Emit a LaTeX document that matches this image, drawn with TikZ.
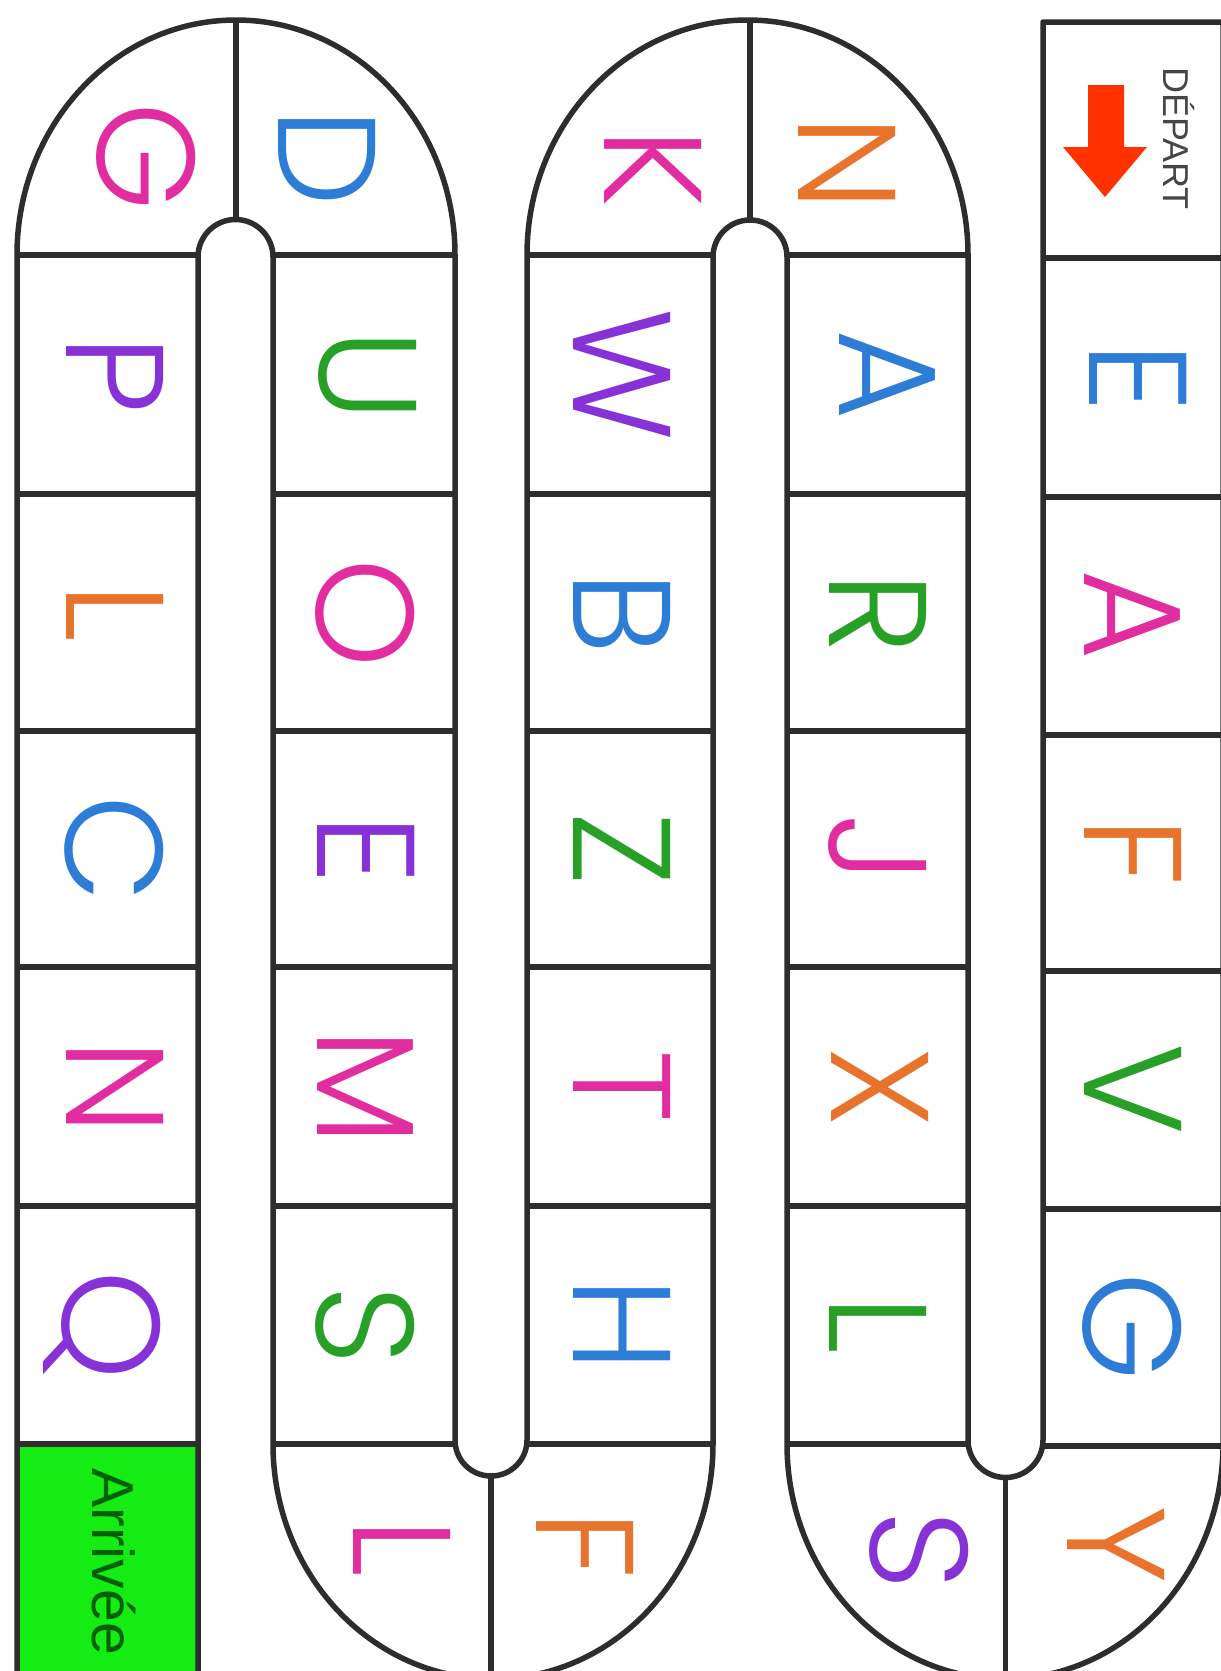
\documentclass[tikz,border=0pt]{standalone}
\usepackage{fontspec}
\setmainfont{Liberation Sans}
\newfontfamily\letterfont{Poppins Light}
\definecolor{lblue}{RGB}{45,125,215}
\definecolor{lpink}{RGB}{225,45,160}
\definecolor{lorange}{RGB}{232,115,45}
\definecolor{lgreen}{RGB}{40,160,40}
\definecolor{lpurple}{RGB}{135,50,215}
\definecolor{linegray}{RGB}{45,45,45}
\definecolor{arrgreen}{RGB}{20,236,20}
\definecolor{arrtext}{RGB}{0,95,0}
\definecolor{arrred}{RGB}{255,50,0}
\definecolor{deptext}{RGB}{70,70,70}
\begin{document}
\begin{tikzpicture}[x=1pt,y=-1pt,
  wall/.style={line width=5.5pt, draw=linegray, line join=round},
  letter/.style={rotate=-90, inner sep=0pt, text depth=0pt,
    font=\letterfont\fontsize{139}{139}\selectfont}]
\clip (0,0) rectangle (1221,1671);
\fill[white] (0,0) rectangle (1221,1671);
% finish box
\fill[arrgreen] (17,1444) rectangle (198,1700);
% boundary one
\draw[wall] (17,1700) -- (17,255)
  arc[start angle=180,end angle=360,x radius=219,y radius=235] -- (455,1440)
  arc[start angle=180,end angle=0,radius=36] -- (527,255)
  arc[start angle=180,end angle=360,x radius=220.5,y radius=235] -- (968,1440)
  arc[start angle=180,end angle=0,radius=37.5] -- (1043,22) -- (1240,22);
% boundary two
\draw[wall] (198,1700) -- (198,257)
  arc[start angle=180,end angle=360,radius=37.5] -- (273,1444)
  arc[start angle=180,end angle=0,x radius=220,y radius=235] -- (713,257)
  arc[start angle=180,end angle=360,radius=37] -- (787,1444)
  arc[start angle=180,end angle=0,x radius=218,y radius=235] -- (1223,22);
% dividers in the round cells
\draw[wall] (236,20) -- (236,220);
\draw[wall] (750,20) -- (750,220);
\draw[wall] (491,1476) -- (491,1700);
\draw[wall] (1005.5,1477) -- (1005.5,1700);
% cell lines
\foreach \yy in {255,494,731,967,1206,1444}{
  \draw[wall] (17,\yy) -- (198,\yy);
  \draw[wall] (273,\yy) -- (455,\yy);
  \draw[wall] (527,\yy) -- (713,\yy);
  \draw[wall] (787,\yy) -- (968,\yy);
}
\foreach \yy in {258,497,735,971,1209,1446}{
  \draw[wall] (1043,\yy) -- (1223,\yy);
}
% start cell
\fill[arrred] (1088,85) -- (1124,85) -- (1124,147) -- (1147,147) -- (1105,197)
  -- (1063,147) -- (1088,147) -- cycle;
\node[rotate=-90, anchor=base west, inner sep=0pt, text=deptext,
  font=\fontsize{36}{36}\selectfont] (depart) at (1163,67) {DÉPART};
\node[rotate=-90, anchor=base west, inner sep=0pt, text=arrtext,
  font=\fontsize{59}{59}\selectfont] (arrivee) at (92,1468) {Arrivée};
% column 1
\node[letter,text=lblue]   (c1a) at (1138,377) {\vphantom{E}E};
\node[letter,text=lpink]   (c1b) at (1133,615) {\vphantom{E}A};
\node[letter,text=lorange] (c1c) at (1133,852) {\vphantom{E}F};
\node[letter,text=lgreen]  (c1d) at (1133,1089) {\vphantom{E}V};
\node[letter,text=lblue]   (c1e) at (1133,1327) {\vphantom{E}G};
\node[letter,text=lorange] (c1f) at (1116,1545) {\vphantom{E}Y};
% column 2
\node[letter,text=lorange] (c2n) at (847,163) {\vphantom{E}N};
\node[letter,text=lblue]   (c2a) at (888,375) {\vphantom{E}A};
\node[letter,text=lgreen]  (c2b) at (878,613) {\vphantom{E}R};
\node[letter,text=lpink]   (c2c) at (878,849) {\vphantom{E}J};
\node[letter,text=lorange] (c2d) at (880,1087) {\vphantom{E}X};
\node[letter,text=lgreen]  (c2e) at (878,1325) {\vphantom{E}L};
\node[letter,text=lpurple] (c2s) at (920,1550) {\vphantom{E}S};
% column 3
\node[letter,text=lpink]   (c3k) at (653,168) {\vphantom{E}K};
\node[letter,text=lpurple] (c3a) at (622,375) {\vphantom{E}W};
\node[letter,text=lblue]   (c3b) at (622,613) {\vphantom{E}B};
\node[letter,text=lgreen]  (c3c) at (622,849) {\vphantom{E}Z};
\node[letter,text=lpink]   (c3d) at (622,1087) {\vphantom{E}T};
\node[letter,text=lblue]   (c3e) at (622,1325) {\vphantom{E}H};
\node[letter,text=lorange] (c3f) at (585,1545) {\vphantom{E}F};
% column 4
\node[letter,text=lblue]   (c4d) at (327,158) {\vphantom{E}D};
\node[letter,text=lgreen]  (c4a) at (368,375) {\vphantom{E}U};
\node[letter,text=lpink]   (c4b) at (366,613) {\vphantom{E}O};
\node[letter,text=lpurple] (c4c) at (366,849) {\vphantom{E}E};
\node[letter,text=lpink]   (c4e) at (366,1087) {\vphantom{E}M};
\node[letter,text=lgreen]  (c4f) at (366,1325) {\vphantom{E}S};
\node[letter,text=lpink]   (c4l) at (402,1548) {\vphantom{E}L};
% column 5
\node[letter,text=lpink]   (c5g) at (147,157) {\vphantom{E}G};
\node[letter,text=lpurple] (c5a) at (115,375) {\vphantom{E}P};
\node[letter,text=lorange] (c5b) at (115,613) {\vphantom{E}L};
\node[letter,text=lblue]   (c5c) at (115,849) {\vphantom{E}C};
\node[letter,text=lpink]   (c5d) at (115,1087) {\vphantom{E}N};
\node[letter,text=lpurple] (c5e) at (112,1325) {\vphantom{E}Q};
\end{tikzpicture}
\end{document}
